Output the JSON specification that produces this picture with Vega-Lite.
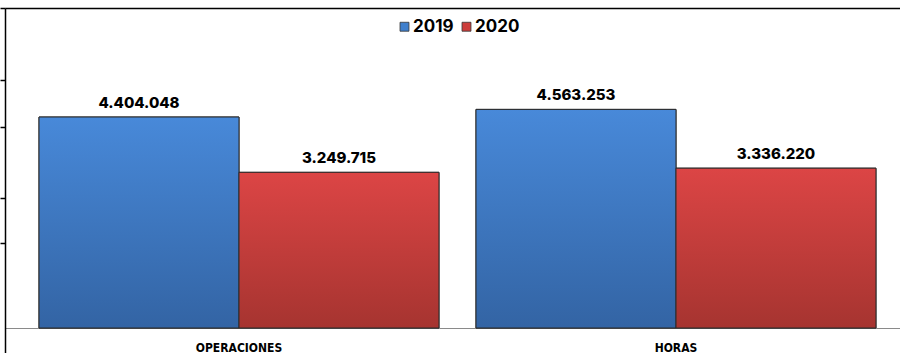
{
  "$schema": "https://vega.github.io/schema/vega-lite/v6.json",
  "autosize": {"type": "none"},
  "padding": {"left": 5, "top": 8, "right": 0, "bottom": 0},
  "width": 895,
  "height": 345,
  "background": "white",
  "config": {
    "view": {"stroke": null},
    "locale": {"number": {"decimal": ",", "thousands": ".", "grouping": [3], "currency": ["", ""]}}
  },
  "data": {"values": [
    {"cat": "OPERACIONES", "year": "2019", "value": 4404048},
    {"cat": "OPERACIONES", "year": "2020", "value": 3249715},
    {"cat": "HORAS", "year": "2019", "value": 4563253},
    {"cat": "HORAS", "year": "2020", "value": 3336220}
  ]},
  "encoding": {
    "x": {"field": "cat", "type": "nominal", "sort": ["OPERACIONES", "HORAS"],
      "scale": {"paddingInner": 0.0847, "paddingOuter": 0.0664, "align": 0.586},
      "axis": {"title": null, "orient": "bottom", "offset": -25, "grid": false, "domain": true, "domainColor": "#8a8a8a", "domainWidth": 1, "ticks": false, "labelPadding": 14, "labelAngle": 0,
        "labelFont": "Liberation Sans Narrow, DejaVu Sans Condensed, sans-serif", "labelFontSize": 12, "labelFontWeight": "bold", "labelColor": "black"}},
    "y": {"field": "value", "type": "quantitative",
      "scale": {"domain": [-521875, 6680000], "nice": false, "zero": false},
      "axis": {"title": null, "labels": false, "domain": true, "domainColor": "black", "domainWidth": 1.5,
        "tickSize": 5, "tickColor": "black", "tickWidth": 1.5,
        "grid": true, "gridColor": "black", "gridWidth": 1.5,
        "gridOpacity": {"condition": {"test": "datum.value >= 6600000", "value": 1}, "value": 0},
        "values": [6680000, 5177000, 4195875, 2713750, 1774375]}},
    "xOffset": {"field": "year", "type": "nominal", "scale": {"paddingInner": 0, "paddingOuter": 0}}
  },
  "layer": [
    {
      "mark": {"type": "bar", "stroke": "#2b2b2b", "strokeWidth": 1},
      "encoding": {
        "fill": {"field": "year", "type": "nominal",
          "scale": {"domain": ["2019", "2020"], "range": ["#3f7fcc", "#cc3d3b"]},
          "legend": {"title": null, "orient": "none", "direction": "horizontal", "legendX": 391, "legendY": 10,
            "symbolType": "square", "symbolSize": 80, "symbolStrokeColor": "#333", "symbolStrokeWidth": 0.8,
            "labelFont": "Inter, sans-serif", "labelFontSize": 17, "labelFontWeight": "bold", "labelColor": "black",
            "labelOffset": 0, "columnPadding": 4}}
      }
    },
    {
      "transform": [{"filter": "datum.year === '2019'"}],
      "mark": {"type": "bar", "stroke": "#2b2b2b", "strokeWidth": 1,
        "color": {"gradient": "linear", "x1": 0, "y1": 0, "x2": 0, "y2": 1, "stops": [{"offset": 0, "color": "#4889d9"}, {"offset": 1, "color": "#3364a4"}]}},
      "encoding": {}
    },
    {
      "transform": [{"filter": "datum.year === '2020'"}],
      "mark": {"type": "bar", "stroke": "#2b2b2b", "strokeWidth": 1,
        "color": {"gradient": "linear", "x1": 0, "y1": 0, "x2": 0, "y2": 1, "stops": [{"offset": 0, "color": "#dc4545"}, {"offset": 1, "color": "#a63430"}]}},
      "encoding": {}
    },
    {
      "mark": {"type": "text", "baseline": "bottom", "dy": -6, "font": "Inter, sans-serif", "fontSize": 15, "fontWeight": 800, "color": "black"},
      "encoding": {
        "text": {"field": "value", "type": "quantitative", "format": ",d"}
      }
    }
  ]
}
